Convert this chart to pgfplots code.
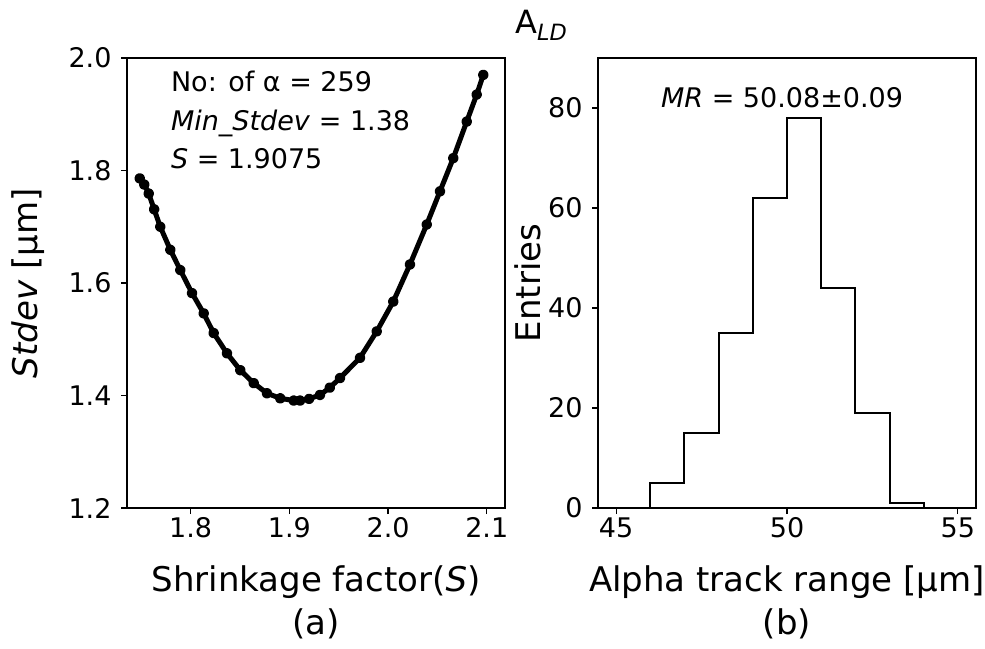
\documentclass[border=0pt]{standalone}
\usepackage{fontspec}
\setmainfont{DejaVu Sans}
\usepackage{pgfplots}
\pgfplotsset{compat=1.18}
\pgfplotsset{
  common/.style={
    scale only axis, width=378pt, height=450pt,
    axis line style={line width=1.2pt},
    tick align=outside, major tick length=6pt,
    every tick/.style={black, line width=1.2pt},
    xtick pos=left, ytick pos=left,
    tick label style={font=\fontsize{27}{30}\selectfont},
    yticklabel style={xshift=-6pt},
    label style={font=\fontsize{34}{43}\selectfont},
    /pgf/number format/assume math mode=true,
    xlabel style={align=center, at={(axis description cs:0.5,-0.127)}, anchor=north, inner sep=0pt},
  }
}
\begin{document}
\begin{tikzpicture}
\useasboundingbox (0pt,0pt) rectangle (985pt,-648pt);
\node[anchor=base west, inner sep=0pt, font=\fontsize{32}{36}\selectfont] at (515pt,-33pt) {A\textsubscript{\textit{LD}}};
\begin{axis}[common, at={(127pt,-508pt)}, anchor=south west,
  xmin=1.7355, xmax=2.1185, ymin=1.2, ymax=2.0,
  xtick={1.8,1.9,2.0,2.1}, ytick={1.2,1.4,1.6,1.8,2.0},
  xticklabel style={/pgf/number format/.cd, fixed, fixed zerofill, precision=1},
  yticklabel style={/pgf/number format/.cd, fixed, fixed zerofill, precision=1},
  xlabel={Shrinkage factor(\textit{S})\\(a)},
  ylabel={\textit{Stdev} [μm]},
  ylabel style={at={(axis description cs:-0.262,0.5)}, anchor=center, inner sep=0pt},
]
\addplot[black, line width=5pt, line join=round, line cap=round, mark=*, mark size=2.8pt] coordinates {
(1.7484,1.786) (1.7530,1.775) (1.7575,1.759) (1.7630,1.731) (1.7692,1.700)
(1.7794,1.659) (1.7895,1.623) (1.8014,1.582) (1.8132,1.546) (1.8233,1.511)
(1.8368,1.475) (1.8503,1.445) (1.8639,1.422) (1.8773,1.404) (1.8908,1.395)
(1.9044,1.391) (1.9108,1.391) (1.9200,1.394) (1.9310,1.401) (1.9410,1.414)
(1.9513,1.431) (1.9716,1.467) (1.9885,1.514) (2.0053,1.567) (2.0222,1.633)
(2.0392,1.704) (2.0526,1.763) (2.0661,1.822) (2.0797,1.887) (2.0898,1.935)
(2.0965,1.970)
};
\node[anchor=north west, inner sep=0pt, align=left, font=\fontsize{27}{38.5}\selectfont]
  at (rel axis cs:0.116,0.971) {No: of α = 259\\\textit{Min\_Stdev} = 1.38\\\textit{S} = 1.9075};
\end{axis}
\begin{axis}[common, at={(598pt,-508pt)}, anchor=south west,
  xmin=44.47, xmax=55.53, ymin=0, ymax=90,
  xtick={45,50,55}, ytick={0,20,40,60,80},
  xlabel={Alpha track range [μm]\\(b)},
  ylabel={Entries},
  ylabel style={at={(axis description cs:-0.186,0.5)}, anchor=center, inner sep=0pt},
]
\addplot[black, line width=2pt, line join=miter] coordinates {
(46,0) (46,5) (47,5) (47,15) (48,15) (48,35) (49,35) (49,62) (50,62) (50,78)
(51,78) (51,44) (52,44) (52,19) (53,19) (53,1) (54,1) (54,0)
};
\node[anchor=center, inner sep=0pt, font=\fontsize{27}{30}\selectfont]
  at (rel axis cs:0.487,0.912) {\textit{MR} = 50.08±0.09};
\end{axis}
\end{tikzpicture}
\end{document}
